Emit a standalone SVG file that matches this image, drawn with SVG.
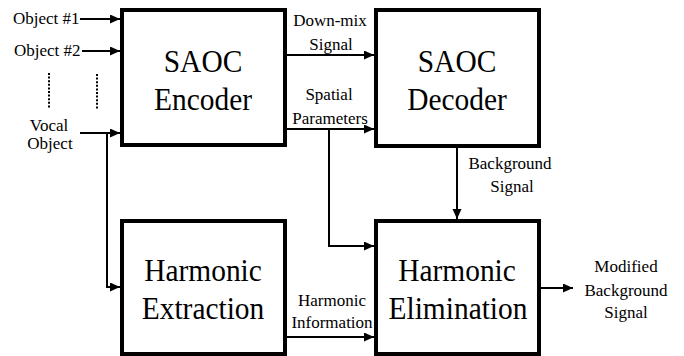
<svg xmlns="http://www.w3.org/2000/svg" width="684" height="356" viewBox="0 0 684 356" font-family="Liberation Serif, serif">
  <style>
    .box { fill: white; stroke: black; stroke-width: 4; }
    .wire { fill: none; stroke: black; stroke-width: 2; }
    .dots { fill: none; stroke: black; stroke-width: 2; stroke-dasharray: 2 1.6; }
    text { font-family: Liberation Serif, serif; fill: black; }
    .big { font-size: 32px; text-anchor: middle; }
    .small { font-size: 17px; }
    .mid { text-anchor: middle; }
  </style>
  <defs>
    <marker id="arrow" markerUnits="userSpaceOnUse" markerWidth="10" markerHeight="10" refX="10" refY="4.5" orient="auto">
      <path d="M0,0 L10,4.5 L0,9 z" fill="black"/>
    </marker>
  </defs>
  <rect width="684" height="356" fill="white"/>

  <g id="inputs">
    <text class="small" x="13" y="24">Object #1</text>
    <text class="small" x="14" y="56">Object #2</text>
    <text class="small mid" x="49" y="131">Vocal</text>
    <text class="small mid" x="50" y="149">Object</text>
    <line class="dots" x1="49" y1="73" x2="49" y2="109"/>
    <line class="dots" x1="97" y1="74" x2="97" y2="110"/>
  </g>

  <g id="saoc-encoder">
    <rect class="box" x="122" y="10" width="163" height="135"/>
    <text class="big" transform="translate(203,72) scale(0.92,1)">SAOC</text>
    <text class="big" transform="translate(203,110) scale(0.92,1)">Encoder</text>
  </g>

  <g id="saoc-decoder">
    <rect class="box" x="376" y="10" width="163" height="136"/>
    <text class="big" transform="translate(457,72) scale(0.92,1)">SAOC</text>
    <text class="big" transform="translate(457,110) scale(0.92,1)">Decoder</text>
  </g>

  <g id="harmonic-extraction">
    <rect class="box" x="122" y="221" width="163" height="133"/>
    <text class="big" transform="translate(203,281) scale(0.92,1)">Harmonic</text>
    <text class="big" transform="translate(203,319) scale(0.92,1)">Extraction</text>
  </g>

  <g id="harmonic-elimination">
    <rect class="box" x="376" y="221" width="163" height="133"/>
    <text class="big" transform="translate(457,281) scale(0.92,1)">Harmonic</text>
    <text class="big" transform="translate(458,319) scale(0.92,1)">Elimination</text>
  </g>

  <g id="connectors">
    <path class="wire" d="M80,19 H120" marker-end="url(#arrow)"/>
    <path class="wire" d="M82,51 H120" marker-end="url(#arrow)"/>
    <path class="wire" d="M80,133 H120" marker-end="url(#arrow)"/>
    <path class="wire" d="M107,133 V287 H120" marker-end="url(#arrow)"/>
    <path class="wire" d="M287,55 H374" marker-end="url(#arrow)"/>
    <path class="wire" d="M287,129 H374" marker-end="url(#arrow)"/>
    <path class="wire" d="M329,129 V246 H374" marker-end="url(#arrow)"/>
    <path class="wire" d="M457,148 V219" marker-end="url(#arrow)"/>
    <path class="wire" d="M287,337 H374" marker-end="url(#arrow)"/>
    <path class="wire" d="M541,288 H573" marker-end="url(#arrow)"/>
  </g>

  <g id="connector-labels">
    <text class="small mid" x="330" y="26">Down-mix</text>
    <text class="small mid" x="331" y="50">Signal</text>
    <text class="small mid" x="329" y="100">Spatial</text>
    <text class="small mid" x="330" y="124">Parameters</text>
    <text class="small mid" x="510" y="169">Background</text>
    <text class="small mid" x="512" y="192">Signal</text>
    <text class="small mid" x="332" y="306">Harmonic</text>
    <text class="small mid" x="332" y="328">Information</text>
    <text class="small mid" x="626" y="272">Modified</text>
    <text class="small mid" x="626" y="296">Background</text>
    <text class="small mid" x="626" y="318">Signal</text>
  </g>
</svg>
